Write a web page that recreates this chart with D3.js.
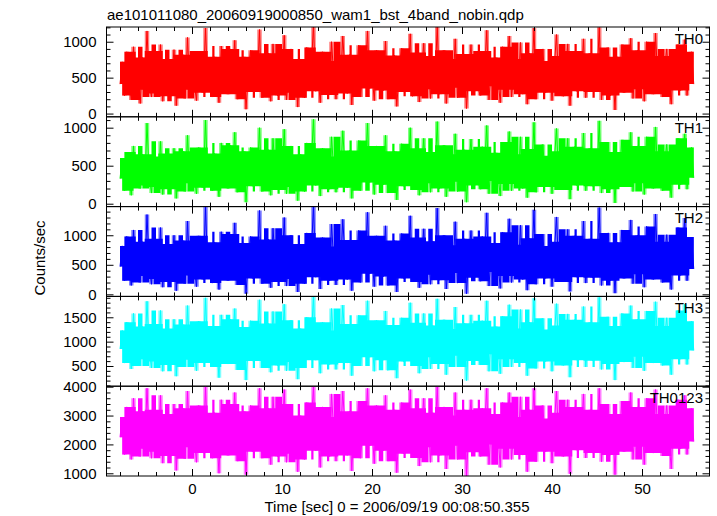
<!DOCTYPE html>
<html><head><meta charset="utf-8">
<script src="https://cdn.jsdelivr.net/npm/d3@7"></script>
<style>
body{margin:0;background:#fff}
svg{display:block}
text{font-family:"Liberation Sans",Arial,Helvetica,sans-serif;font-size:15px;fill:#000}
</style>
</head><body>
<svg id="chart" width="717" height="516"></svg>
<script>
const titleText = "ae101011080_20060919000850_wam1_bst_4band_nobin.qdp";
const xTitle = "Time [sec] 0 = 2006/09/19 00:08:50.355";
const yTitle = "Counts/sec";
const bandNames = ["TH0", "TH1", "TH2", "TH3", "TH0123"];
const bandColors = ["#ff0000", "#00ff00", "#0000ff", "#00ffff", "#ff00ff"];
const tStart = -8, tStep = 0.25;
const xTickValues = [0, 10, 20, 30, 40, 50];

const th0 = [
410,720,250,860,470,190,930,380,640,140,780,330,1150,420,230,870,
520,280,960,170,610,760,240,480,890,110,590,370,820,210,1060,330,
680,430,180,870,540,290,1190,370,620,230,790,460,150,940,400,580,
270,900,470,1020,200,700,350,790,60,560,880,300,740,420,1170,220,
600,340,840,170,970,500,250,710,400,1090,190,550,900,290,680,90,
760,450,220,920,360,620,1230,310,530,150,860,410,670,260,1000,520,
200,730,390,1080,570,280,820,120,610,430,950,230,700,480,1150,350,
560,180,880,420,720,320,1010,200,650,460,810,100,560,910,300,740,
390,1110,240,630,850,160,540,980,340,700,210,800,470,1210,270,620,
880,140,520,760,360,1040,220,670,440,830,70,590,960,310,720,400,
250,870,560,1160,190,690,380,780,480,150,930,330,640,1080,230,540,
760,350,990,270,610,130,840,450,1190,200,710,420,900,290,560,730,
180,650,1100,360,800,240,570,970,110,620,870,310,730,440,1040,220,
580,840,300,690,460,1200,190,770,370,920,250,650,50,790,430,960,
290,720,510,1050,210,640,880,340,750,170,1000,400,660,270,1120,470,
800,230,620,900,380,130,740,480,960,320,680,1030,250,570,860,410];

const th1 = [
330,600,170,680,380,110,760,290,540,200,650,240,1060,360,140,620,
420,220,820,120,570,660,190,400,730,70,500,300,690,160,900,270,
580,350,130,740,440,210,1100,300,550,170,660,380,90,800,320,510,
200,770,370,940,150,600,280,690,20,450,740,230,640,340,1000,160,
530,270,710,110,860,420,180,610,330,980,130,470,760,220,570,40,
650,360,160,800,290,530,1110,240,460,100,730,330,570,190,880,430,
150,620,310,960,460,210,700,70,540,350,830,170,590,390,1060,280,
480,120,760,330,610,250,900,140,560,370,690,50,470,790,230,640,
310,1000,180,540,730,110,450,860,270,600,150,680,380,1080,200,520,
770,90,430,650,290,920,160,570,350,710,20,490,850,240,610,330,
190,750,450,1030,130,590,300,670,380,100,810,260,540,950,170,450,
650,280,880,200,510,80,720,370,1070,150,600,340,780,220,470,630,
130,560,990,290,690,180,460,860,60,520,750,240,620,350,930,170,
490,730,230,590,370,1090,140,660,300,810,190,550,10,680,350,840,
220,610,410,940,160,530,760,270,640,120,880,320,570,200,1010,380,
690,170,520,780,310,80,630,390,860,250,580,920,190,480,740,340];

const th2 = [
470,820,230,980,520,150,1090,390,720,200,890,310,1350,460,170,940,
580,260,1130,120,710,850,210,520,1000,60,660,370,910,180,1240,320,
780,470,130,990,600,250,1480,370,730,190,880,500,80,1060,410,660,
230,1020,520,1210,160,760,340,870,10,610,980,270,810,440,1420,180,
690,330,930,110,1120,540,210,780,410,1300,140,600,1000,260,740,40,
850,480,180,1040,370,670,1500,290,580,90,960,420,720,230,1190,550,
160,810,400,1270,630,250,920,60,680,450,1080,200,760,520,1390,350,
620,130,990,430,790,300,1160,150,710,490,910,40,600,1030,270,810,
400,1330,210,670,960,110,570,1110,330,770,170,900,500,1460,240,660,
1000,90,550,830,360,1230,190,720,460,940,10,640,1080,280,790,420,
220,980,610,1380,140,740,380,870,520,100,1050,310,690,1280,200,570,
840,350,1170,250,650,70,950,480,1430,170,780,430,1020,270,600,820,
130,710,1310,370,890,210,580,1100,50,670,990,290,800,460,1240,190,
630,940,280,750,500,1470,150,860,370,1040,230,700,20,880,450,1090,
270,790,560,1260,180,680,1000,340,830,120,1150,410,720,250,1360,510,
890,200,650,1010,400,80,820,510,1130,320,730,1290,230,610,970,430];

const th3 = [
850,1230,560,1400,900,440,1580,740,1110,500,1310,640,1830,820,460,1360,
960,590,1640,390,1130,1270,520,910,1460,290,1060,710,1350,480,1740,630,
1190,840,400,1420,970,560,1900,700,1140,480,1320,880,260,1550,770,1070,
540,1460,920,1680,420,1180,680,1300,210,980,1430,600,1230,810,1860,460,
1100,650,1370,370,1620,930,510,1200,780,1770,400,980,1440,580,1160,230,
1270,860,460,1500,720,1080,1920,620,950,350,1400,800,1130,530,1680,920,
430,1230,750,1750,1050,560,1360,300,1090,840,1540,500,1180,910,1840,680,
1030,390,1440,800,1210,620,1630,410,1120,880,1340,250,1010,1490,590,1240,
770,1800,500,1080,1390,350,1000,1580,680,1190,440,1330,880,1880,540,1060,
1450,320,980,1260,710,1710,480,1130,820,1380,200,1050,1550,600,1210,790,
520,1430,1040,1840,390,1160,740,1310,890,340,1520,640,1090,1760,480,1000,
1270,700,1660,560,1080,300,1400,860,1890,450,1210,800,1480,590,1030,1250,
390,1120,1780,720,1330,510,1010,1570,270,1080,1450,620,1240,850,1720,480,
1060,1400,610,1180,890,1910,430,1300,740,1510,540,1130,210,1320,830,1580,
580,1230,940,1740,460,1090,1460,690,1270,400,1630,800,1170,560,1820,910,
1320,510,1070,1490,760,320,1260,920,1640,640,1170,1770,530,1040,1420,820];

const th0123 = [
2250,2950,1650,3300,2350,1480,3600,2050,2700,1580,3150,1850,3950,2200,1520,3200,
2450,1750,3700,1350,2800,3050,1600,2380,3400,1100,2620,1950,3250,1500,3850,1900,
2900,2250,1380,3350,2550,1700,4000,2000,2750,1520,3100,2320,1000,3550,2100,2650,
1620,3400,2420,3800,1420,2850,1900,3150,950,2600,3350,1750,2950,2200,3950,1520,
2700,1880,3250,1300,3650,2420,1580,2900,2120,3900,1380,2550,3400,1680,2780,1050,
3000,2300,1480,3450,2000,2680,4000,1780,2500,1200,3300,2100,2720,1580,3750,2420,
1420,2950,2080,3850,2580,1620,3150,1080,2680,2200,3500,1520,2850,2350,3950,1950,
2580,1330,3350,2120,2950,1780,3700,1420,2720,2300,3200,1020,2500,3450,1680,2950,
2080,3900,1530,2680,3250,1250,2450,3600,1900,2880,1380,3100,2250,4000,1620,2620,
3300,1150,2380,3000,1950,3800,1480,2720,2120,3200,900,2560,3550,1730,2900,2200,
1580,3250,2560,3950,1300,2800,2000,3050,2320,1200,3450,1850,2680,3800,1480,2450,
2950,1950,3650,1630,2630,1050,3200,2250,3950,1400,2850,2120,3350,1750,2520,2900,
1350,2700,3850,2000,3100,1580,2450,3550,980,2580,3300,1800,2900,2250,3750,1530,
2520,3200,1700,2800,2320,3950,1400,3000,2020,3400,1630,2700,950,3050,2200,3500,
1750,2900,2450,3800,1480,2640,3300,1920,2950,1300,3600,2180,2750,1700,3900,2380,
3050,1600,2580,3350,2150,1150,2950,2300,3550,1850,2750,3700,1650,2520,3250,2100];

const series = [th0, th1, th2, th3, th0123];
const yRanges = [[-45, 1205], [-38, 1143], [-35, 1485], [85, 1929], [906, 4017]];
const yMajorStep = [500, 500, 500, 500, 1000];
const yMinorStep = [100, 100, 100, 100, 200];

// layout
const plotLeft = 106.5, plotRight = 709.5, plotTop = 27, panelH = 89.8;
const svg = d3.select("#chart");

const x = d3.scaleLinear().domain([-9.5, 57.5]).range([plotLeft, plotRight]);
const xMinor = d3.range(-8, 58, 2).filter(v => v % 10 !== 0);

function stepTicks(lo, hi, s) {
  const out = [];
  for (let v = Math.ceil(lo / s) * s; v <= hi + 1e-9; v += s) out.push(v);
  return out;
}

series.forEach((vals, p) => {
  const y0 = plotTop + p * panelH, y1 = y0 + panelH;
  const y = d3.scaleLinear().domain(yRanges[p]).range([y1, y0]);
  const g = svg.append("g");

  const clipId = "clip" + p;
  svg.append("clipPath").attr("id", clipId).append("rect")
    .attr("x", plotLeft).attr("y", y0).attr("width", plotRight - plotLeft).attr("height", panelH);

  const n = vals.length;
  const core = [], sweep = [];
  for (let i = 0; i < n - 1; i++) {
    const w = vals.slice(Math.max(0, i - 3), Math.min(n, i + 5)).sort(d3.ascending);
    core.push({ t: tStart + i * tStep, lo: w[1], hi: w[w.length - 2] });
    sweep.push({ t: tStart + i * tStep, lo: Math.min(vals[i], vals[i + 1]), hi: Math.max(vals[i], vals[i + 1]) });
  }
  const tEnd = tStart + (n - 1) * tStep;
  core.push({ ...core[core.length - 1], t: tEnd });
  sweep.push({ ...sweep[sweep.length - 1], t: tEnd });

  const band = d3.area()
    .curve(d3.curveStepAfter)
    .x(d => x(d.t))
    .y0(d => y(d.lo))
    .y1(d => y(d.hi));
  const gd = g.append("g").attr("clip-path", `url(#${clipId})`);
  gd.append("path").datum(sweep)
    .attr("fill", bandColors[p]).attr("fill-opacity", 0.5)
    .attr("d", band);
  gd.append("path").datum(core)
    .attr("fill", bandColors[p])
    .attr("d", band);
  const line = d3.line()
    .x((d, i) => x(tStart + i * tStep))
    .y(d => y(d));
  gd.append("path").datum(vals)
    .attr("fill", "none")
    .attr("stroke", bandColors[p])
    .attr("stroke-width", 1)
    .attr("d", line);

  const majorY = stepTicks(yRanges[p][0], yRanges[p][1], yMajorStep[p]);
  const minorY = stepTicks(yRanges[p][0], yRanges[p][1], yMinorStep[p]).filter(v => !majorY.includes(v));

  const axL = g.append("g").attr("transform", `translate(${plotLeft},0)`)
    .call(d3.axisLeft(y).tickValues(majorY).tickSize(-7).tickPadding(10).tickFormat(d3.format("d")));
  const axLm = g.append("g").attr("transform", `translate(${plotLeft},0)`)
    .call(d3.axisLeft(y).tickValues(minorY).tickSize(-4).tickFormat(""));
  const axR = g.append("g").attr("transform", `translate(${plotRight},0)`)
    .call(d3.axisRight(y).tickValues(majorY).tickSize(-7).tickFormat(""));
  const axRm = g.append("g").attr("transform", `translate(${plotRight},0)`)
    .call(d3.axisRight(y).tickValues(minorY).tickSize(-4).tickFormat(""));

  const isLast = p === series.length - 1;
  const axB = g.append("g").attr("transform", `translate(0,${y1})`)
    .call(d3.axisBottom(x).tickValues(xTickValues).tickSize(-7).tickPadding(7)
      .tickFormat(isLast ? d3.format("d") : ""));
  const axBm = g.append("g").attr("transform", `translate(0,${y1})`)
    .call(d3.axisBottom(x).tickValues(xMinor).tickSize(-4).tickFormat(""));
  const axT = g.append("g").attr("transform", `translate(0,${y0})`)
    .call(d3.axisTop(x).tickValues(xTickValues).tickSize(-7).tickFormat(""));
  const axTm = g.append("g").attr("transform", `translate(0,${y0})`)
    .call(d3.axisTop(x).tickValues(xMinor).tickSize(-4).tickFormat(""));

  [axL, axLm, axR, axRm, axB, axBm, axT, axTm].forEach(a => {
    a.select(".domain").remove();
    a.selectAll("text").attr("font-size", 15).attr("font-family", "Liberation Sans, Arial, sans-serif").attr("fill", "#000");
    a.selectAll("line").attr("stroke", "#000");
  });

  g.append("rect").attr("x", plotLeft).attr("y", y0).attr("width", plotRight - plotLeft).attr("height", panelH)
    .attr("fill", "none").attr("stroke", "#000").attr("stroke-width", 1);

  g.append("text").attr("x", 703).attr("y", y0 + 16.5).attr("text-anchor", "end").text(bandNames[p]);
});

svg.append("text").attr("x", 107).attr("y", 20).attr("font-size", 15.6).text(titleText);
svg.append("text").attr("x", 397).attr("y", 512).attr("text-anchor", "middle").attr("font-size", 15.6).text(xTitle);
svg.append("text").attr("transform", "translate(45,258) rotate(-90)").attr("text-anchor", "middle").attr("font-size", 15.3).text(yTitle);
</script>
</body></html>
